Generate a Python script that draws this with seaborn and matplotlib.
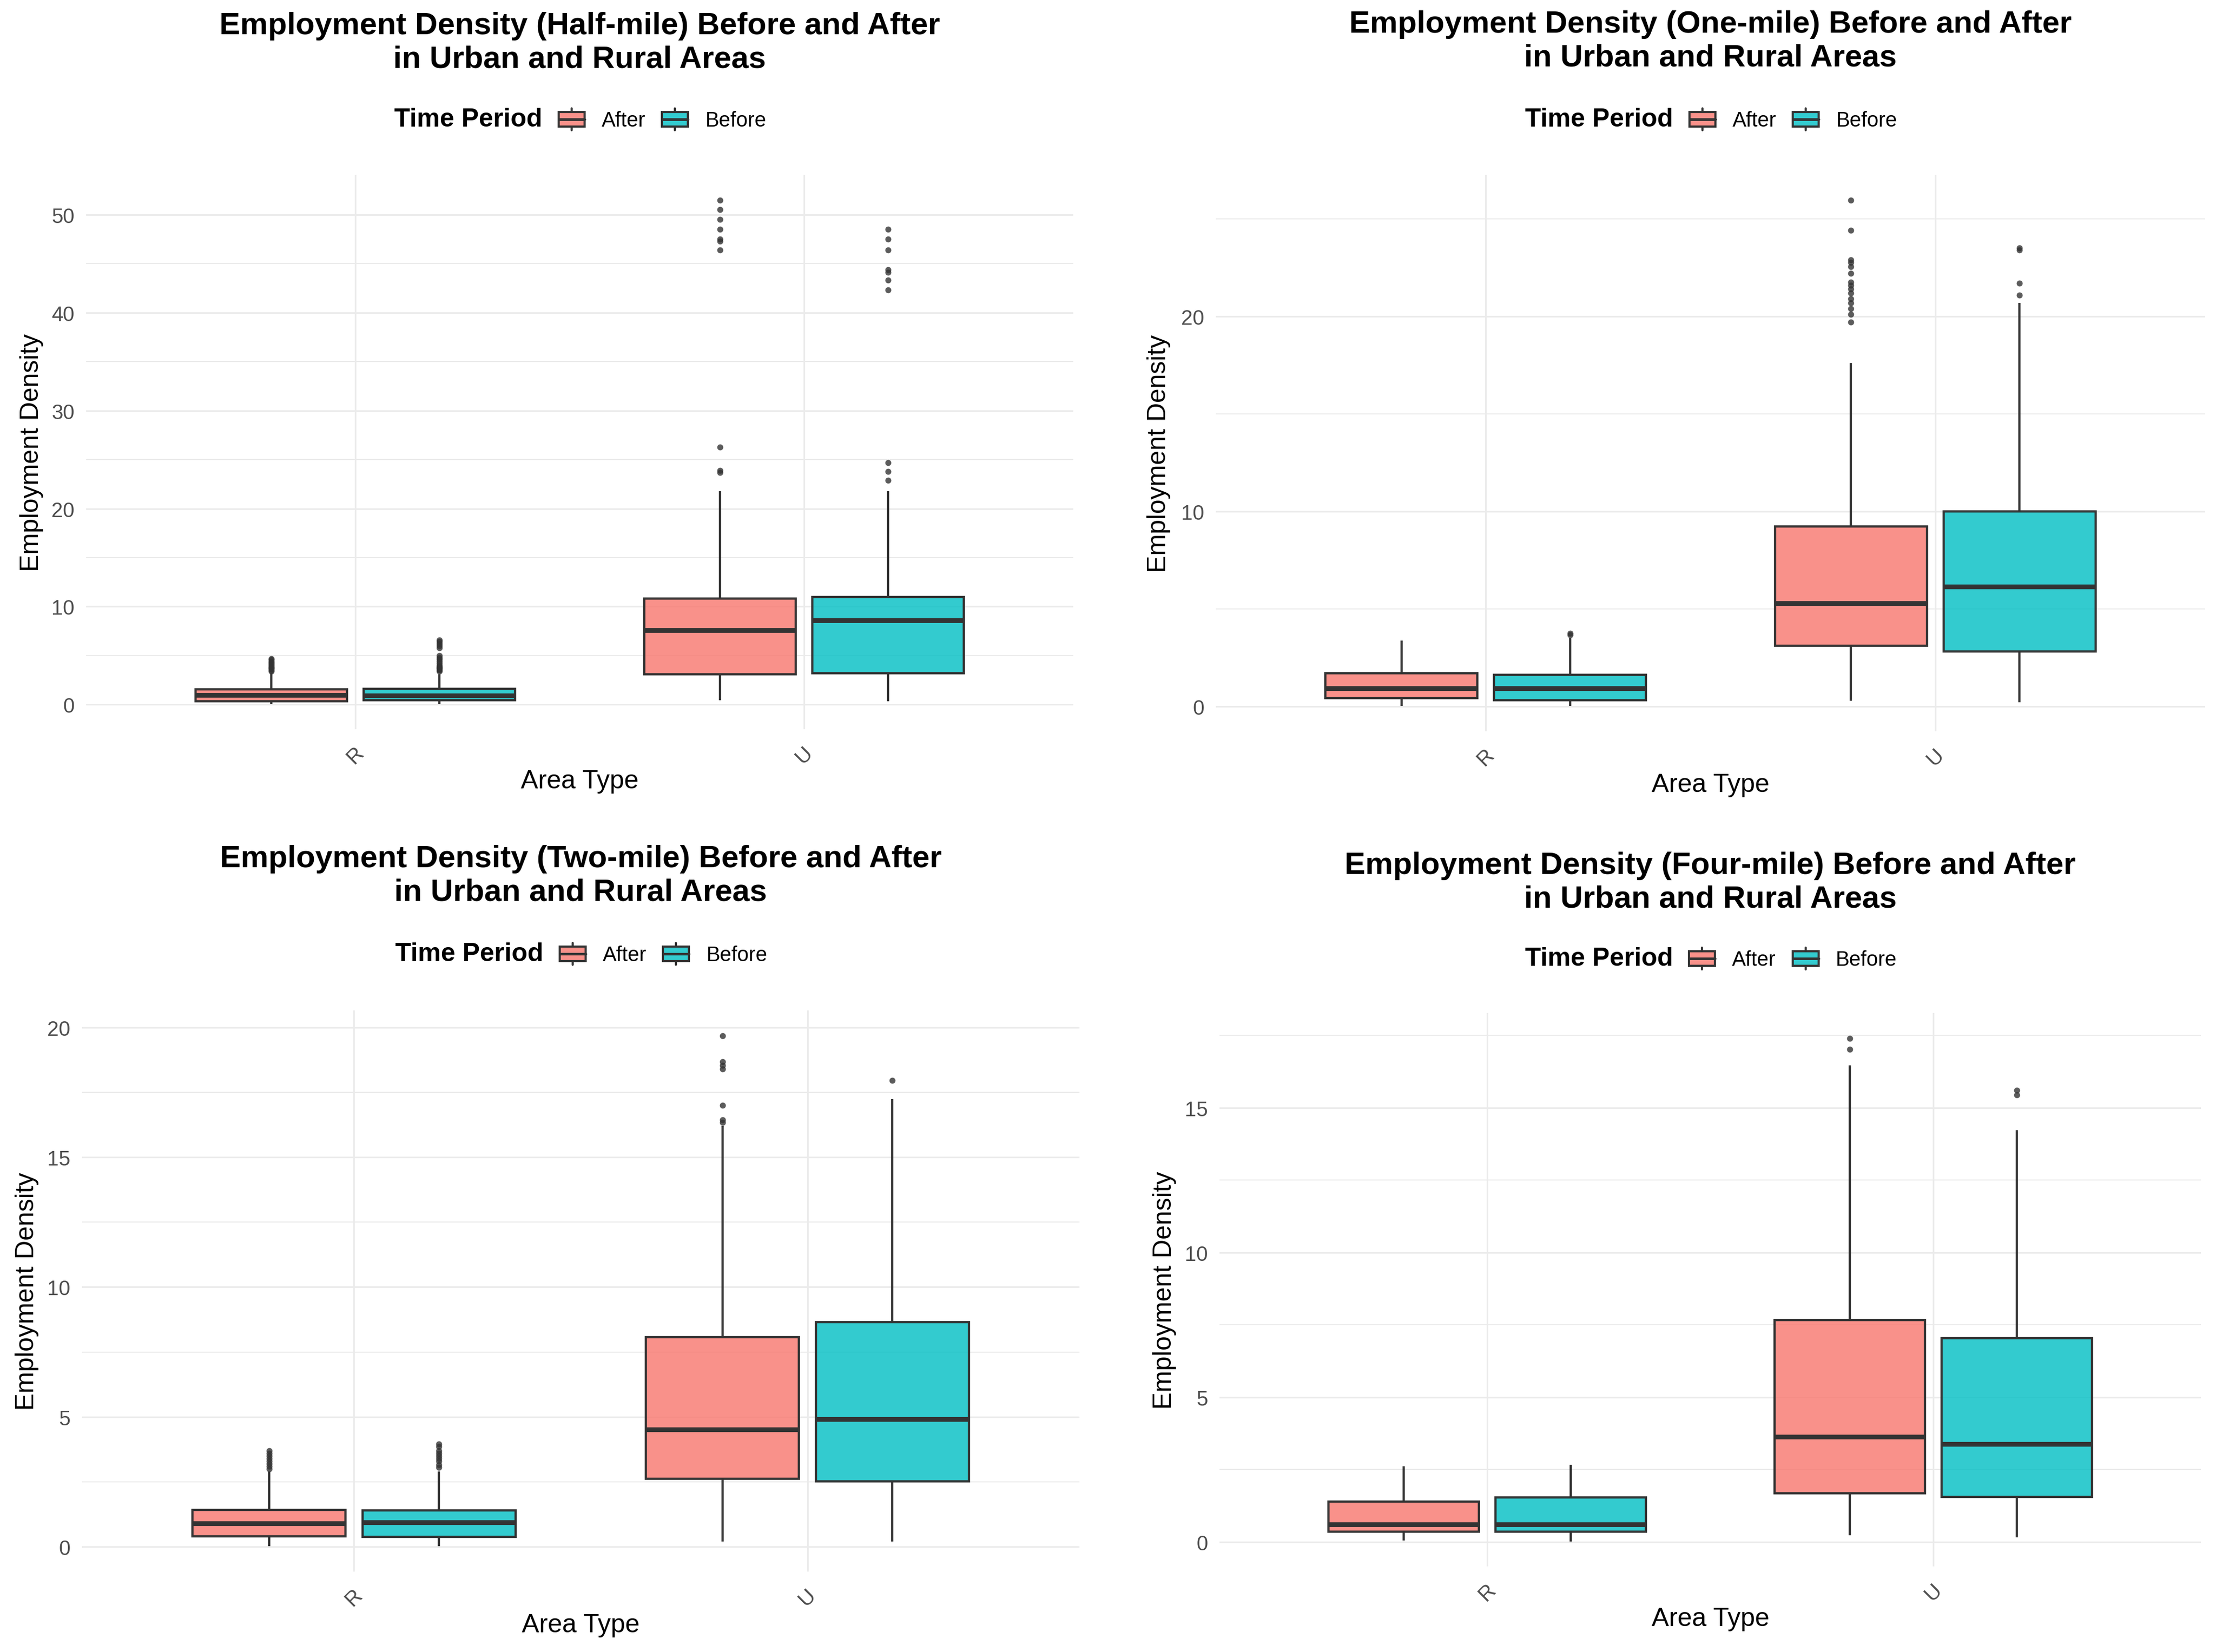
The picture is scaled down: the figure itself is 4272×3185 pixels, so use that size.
import numpy as np
import pandas as pd
import matplotlib
matplotlib.use("Agg")
import matplotlib.pyplot as plt
from matplotlib.patches import Patch, Rectangle
from matplotlib.lines import Line2D
from matplotlib.legend_handler import HandlerBase
from matplotlib.ticker import MultipleLocator, AutoMinorLocator
import seaborn as sns

# ---------------- data ----------------
# five-number summaries: [lower whisker, Q1, median, Q3, upper whisker]
AREAS = ["R", "U"]
PERIODS = ["After", "Before"]
COLORS = {"After": "#F8766D", "Before": "#00BFC4"}

TITLES = [
    "Employment Density (Half-mile) Before and After\nin Urban and Rural Areas",
    "Employment Density (One-mile) Before and After\nin Urban and Rural Areas",
    "Employment Density (Two-mile) Before and After\nin Urban and Rural Areas",
    "Employment Density (Four-mile) Before and After\nin Urban and Rural Areas",
]
Y_MAJOR_STEP = [10, 10, 5, 5]

# Half-mile
HALF_R_AFTER = [0.05, 0.33, 0.95, 1.55, 3.2]
HALF_R_AFTER_OUT = [3.4, 3.5, 3.6, 3.7, 3.8, 3.9, 4.0, 4.1, 4.2, 4.3, 4.4, 4.55, 4.7]
HALF_R_BEFORE = [0.05, 0.42, 0.9, 1.6, 3.1]
HALF_R_BEFORE_OUT = [3.4, 3.5, 3.6, 3.7, 3.8, 3.9, 4.0, 4.2, 4.4, 4.6, 4.8, 5.0,
                     5.8, 6.0, 6.2, 6.4, 6.6]
HALF_U_AFTER = [0.45, 3.1, 7.6, 10.8, 21.8]
HALF_U_AFTER_OUT = [23.7, 23.9, 26.3, 46.4, 47.3, 47.5, 48.5, 49.5, 50.5, 51.5]
HALF_U_BEFORE = [0.35, 3.2, 8.6, 11.0, 21.8]
HALF_U_BEFORE_OUT = [22.9, 23.8, 24.7, 42.3, 43.3, 44.1, 44.4, 46.4, 47.5, 48.5]

# One-mile
ONE_R_AFTER = [0.03, 0.43, 0.94, 1.70, 3.37]
ONE_R_AFTER_OUT = []
ONE_R_BEFORE = [0.02, 0.32, 0.92, 1.62, 3.5]
ONE_R_BEFORE_OUT = [3.68, 3.75]
ONE_U_AFTER = [0.3, 3.1, 5.29, 9.23, 17.6]
ONE_U_AFTER_OUT = [19.7, 20.1, 20.4, 20.7, 20.9, 21.2, 21.4, 21.6, 21.75, 22.2,
                   22.55, 22.75, 22.9, 24.4, 25.96]
ONE_U_BEFORE = [0.22, 2.81, 6.15, 10.0, 20.7]
ONE_U_BEFORE_OUT = [21.1, 21.7, 23.4, 23.5]

# Two-mile
TWO_R_AFTER = [0.02, 0.39, 0.89, 1.42, 2.9]
TWO_R_AFTER_OUT = [3.0, 3.1, 3.2, 3.3, 3.4, 3.5, 3.6, 3.7]
TWO_R_BEFORE = [0.02, 0.37, 0.93, 1.40, 2.9]
TWO_R_BEFORE_OUT = [3.05, 3.15, 3.3, 3.4, 3.5, 3.6, 3.7, 3.85, 3.95]
TWO_U_AFTER = [0.2, 2.62, 4.51, 8.08, 16.2]
TWO_U_AFTER_OUT = [16.35, 16.45, 17.0, 18.4, 18.54, 18.68, 19.68]
TWO_U_BEFORE = [0.2, 2.52, 4.91, 8.66, 17.24]
TWO_U_BEFORE_OUT = [17.97]

# Four-mile
FOUR_R_AFTER = [0.04, 0.35, 0.60, 1.39, 2.61]
FOUR_R_AFTER_OUT = []
FOUR_R_BEFORE = [0.02, 0.36, 0.60, 1.53, 2.66]
FOUR_R_BEFORE_OUT = []
FOUR_U_AFTER = [0.22, 1.68, 3.63, 7.66, 16.46]
FOUR_U_AFTER_OUT = [17.03, 17.41]
FOUR_U_BEFORE = [0.16, 1.55, 3.39, 7.03, 14.23]
FOUR_U_BEFORE_OUT = [15.44, 15.6]

PANELS = [
    [("R", "After", HALF_R_AFTER, HALF_R_AFTER_OUT), ("R", "Before", HALF_R_BEFORE, HALF_R_BEFORE_OUT),
     ("U", "After", HALF_U_AFTER, HALF_U_AFTER_OUT), ("U", "Before", HALF_U_BEFORE, HALF_U_BEFORE_OUT)],
    [("R", "After", ONE_R_AFTER, ONE_R_AFTER_OUT), ("R", "Before", ONE_R_BEFORE, ONE_R_BEFORE_OUT),
     ("U", "After", ONE_U_AFTER, ONE_U_AFTER_OUT), ("U", "Before", ONE_U_BEFORE, ONE_U_BEFORE_OUT)],
    [("R", "After", TWO_R_AFTER, TWO_R_AFTER_OUT), ("R", "Before", TWO_R_BEFORE, TWO_R_BEFORE_OUT),
     ("U", "After", TWO_U_AFTER, TWO_U_AFTER_OUT), ("U", "Before", TWO_U_BEFORE, TWO_U_BEFORE_OUT)],
    [("R", "After", FOUR_R_AFTER, FOUR_R_AFTER_OUT), ("R", "Before", FOUR_R_BEFORE, FOUR_R_BEFORE_OUT),
     ("U", "After", FOUR_U_AFTER, FOUR_U_AFTER_OUT), ("U", "Before", FOUR_U_BEFORE, FOUR_U_BEFORE_OUT)],
]

# weight given to each summary value so the drawn quartiles equal the read ones
WEIGHT = 100


def panel_frame(groups):
    rows = []
    for area, period, summary, outliers in groups:
        vals = np.concatenate([np.repeat(np.asarray(summary, float), WEIGHT),
                               np.asarray(outliers, float)])
        rows.append(pd.DataFrame({"Area Type": area, "Time Period": period,
                                  "Employment Density": vals}))
    return pd.concat(rows, ignore_index=True)


# ---------------- style ----------------
sns.set_style("white")
plt.rcParams["font.family"] = ["Liberation Sans", "DejaVu Sans"]
plt.rcParams["text.color"] = "black"
plt.rcParams["axes.labelcolor"] = "black"

W, H, DPI = 4272, 3186, 300
fig = plt.figure(figsize=(W / DPI, H / DPI), dpi=DPI)
fig.patch.set_facecolor("white")

# layout in pixels: left, top, right, bottom, title_y, legend_y, ylabel_x, xlabel_y
LAYOUT = [
    (166, 338, 2069, 1407, 83, 231, 61, 1507),
    (2344, 338, 4251, 1411, 80, 231, 2234, 1514),
    (158, 1949, 2081, 3031, 1689, 1840, 52, 3134),
    (2351, 1954, 4243, 3021, 1702, 1849, 2245, 3122),
]

EDGE = "#333333"
GRID = "#EBEBEB"
FILL_ALPHA = 0.8


class BoxKeyHandler(HandlerBase):
    def create_artists(self, legend, orig_handle, xdescent, ydescent, width, height, fontsize, trans):
        fc = orig_handle.get_facecolor()
        x0, y0 = -xdescent, -ydescent
        bh = 0.66 * height
        by = y0 + (height - bh) / 2
        xm = x0 + width / 2
        rect = Rectangle((x0, by), width, bh, facecolor=(fc[0], fc[1], fc[2], FILL_ALPHA),
                         edgecolor=EDGE, linewidth=1.0, transform=trans)
        med = Line2D([x0, x0 + width], [y0 + height / 2] * 2, color=EDGE, lw=1.2, transform=trans)
        w1 = Line2D([xm, xm], [by + bh, y0 + height], color=EDGE, lw=1.0, transform=trans)
        w2 = Line2D([xm, xm], [y0, by], color=EDGE, lw=1.0, transform=trans)
        return [rect, w1, w2, med]


for i, groups in enumerate(PANELS):
    left, top, right, bottom, title_y, leg_y, ylab_x, xlab_y = LAYOUT[i]
    ax = fig.add_axes([left / W, 1 - bottom / H, (right - left) / W, (bottom - top) / H])
    axh = bottom - top
    axw = right - left
    df = panel_frame(groups)
    sns.boxplot(data=df, x="Area Type", y="Employment Density", hue="Time Period",
                order=AREAS, hue_order=PERIODS, palette=COLORS, saturation=1,
                width=0.75, gap=0.1, showcaps=False, linecolor=EDGE, linewidth=1.05,
                fliersize=2.8,
                flierprops=dict(marker="o", markerfacecolor=EDGE, markeredgecolor=EDGE,
                                markeredgewidth=0, alpha=0.8),
                medianprops=dict(linewidth=2.2, color=EDGE),
                legend=False, ax=ax)
    for p in ax.patches:
        fc = p.get_facecolor()
        p.set_facecolor((fc[0], fc[1], fc[2], FILL_ALPHA))
        p.set_edgecolor(EDGE)

    ax.set_xlim(-0.6, 1.6)
    ax.yaxis.set_major_locator(MultipleLocator(Y_MAJOR_STEP[i]))
    ax.yaxis.set_minor_locator(AutoMinorLocator(2))
    ax.set_axisbelow(True)
    ax.grid(False)
    ax.grid(which="major", axis="both", color=GRID, linewidth=0.75)
    ax.grid(which="minor", axis="y", color=GRID, linewidth=0.5)
    for s in ax.spines.values():
        s.set_visible(False)
    ax.tick_params(axis="both", which="both", length=0)
    ax.tick_params(axis="y", labelsize=9.6, labelcolor="#4D4D4D", pad=5.3)
    ax.tick_params(axis="x", labelsize=9.6, labelcolor="#4D4D4D", pad=6)
    for lab in ax.get_xticklabels():
        lab.set_rotation(45)
        lab.set_ha("center")

    ax.set_ylabel("Employment Density", fontsize=12, color="black")
    ax.yaxis.set_label_coords(-(left - ylab_x) / axw, 0.5)
    ax.yaxis.label.set_verticalalignment("center")
    ax.set_xlabel("Area Type", fontsize=12, color="black")
    ax.xaxis.set_label_coords(0.5, -(xlab_y - bottom) / axh)
    ax.xaxis.label.set_verticalalignment("center")

    ax.set_title(TITLES[i], fontsize=14.4, fontweight="bold", color="black",
                 y=1 + (top - title_y) / axh, pad=0, va="center", linespacing=1.22)

    cx = (left + right) / 2
    fig.text((cx - 72) / W, 1 - leg_y / H, "Time Period", ha="right", va="center",
             fontsize=12, fontweight="bold", color="black")
    handles = [Patch(facecolor=COLORS[p], edgecolor=EDGE) for p in PERIODS]
    leg = ax.legend(handles, PERIODS, loc="center left",
                    bbox_to_anchor=((cx - 41) / W, 1 - leg_y / H), bbox_transform=fig.transFigure,
                    ncol=2, frameon=False, borderpad=0, borderaxespad=0,
                    handlelength=1.25, handleheight=1.25, handletextpad=0.83,
                    columnspacing=0.8, fontsize=9.6,
                    handler_map={Patch: BoxKeyHandler()})
    for t in leg.get_texts():
        t.set_color("black")

fig.savefig("out.png", dpi=DPI, facecolor="white")
